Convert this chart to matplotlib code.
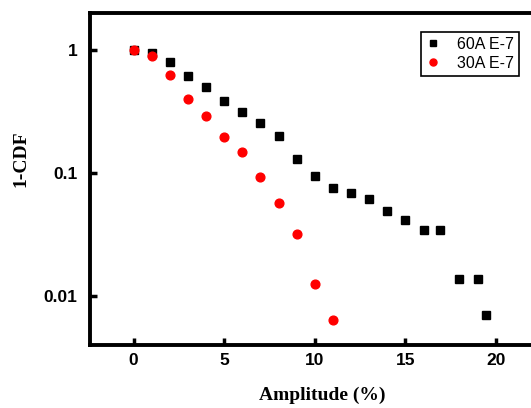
import numpy as np
import matplotlib.pyplot as plt

# 60A E-7
x_60 = [0, 1, 2, 3, 4, 5, 6, 7, 8, 9, 10, 11, 12, 13, 14, 15, 16, 16.9, 17.95, 19.0, 19.45]
y_60 = [1.0, 0.95, 0.80, 0.61, 0.50, 0.385, 0.315, 0.253, 0.20, 0.13, 0.095, 0.075,
        0.068, 0.061, 0.049, 0.041, 0.0344, 0.0344, 0.0137, 0.0137, 0.0070]

# 30A E-7
x_30 = [0, 1, 2, 3, 4, 5, 6, 7, 8, 9, 10, 11]
y_30 = [1.0, 0.89, 0.62, 0.40, 0.29, 0.195, 0.149, 0.093, 0.057, 0.0318, 0.0125, 0.0063]

xticks = [0, 5, 10, 15, 20]
yticks = [0.01, 0.1, 1]
ytick_labels = ["0.01", "0.1", "1"]

fig = plt.figure(figsize=(5.31, 4.08), dpi=100)
ax = fig.add_axes([0.1695, 0.1544, 0.84, 0.8136])

ax.plot(x_60, y_60, linestyle="none", marker="s", markersize=5.8,
        color="black", label="60A E-7")
ax.plot(x_30, y_30, linestyle="none", marker="o", markersize=6.3,
        color="red", markeredgecolor="red", label="30A E-7")

ax.set_yscale("log")
ax.set_xlim(-2.4, 22.2)
ax.set_ylim(10 ** -2.4, 10 ** 0.3)
ax.set_xticks(xticks)
ax.set_xticklabels([str(t) for t in xticks])
ax.set_yticks(yticks)
ax.set_yticklabels(ytick_labels)
ax.minorticks_off()

for lab in ax.get_xticklabels() + ax.get_yticklabels():
    lab.set_fontfamily("Liberation Sans")
    lab.set_fontweight("bold")
    lab.set_fontsize(12.5)

ax.tick_params(direction="in", length=5, width=2.5)
ax.tick_params(axis="x", pad=6)
ax.tick_params(axis="y", pad=9)
for side in ["left", "bottom", "top", "right"]:
    ax.spines[side].set_linewidth(2.8)

ax.set_xlabel("Amplitude (%)", fontfamily="Liberation Serif", fontweight="bold",
              fontsize=14)
ax.xaxis.set_label_coords(0.52, -0.125)
ax.set_ylabel("1-CDF", fontfamily="Liberation Serif", fontweight="bold",
              fontsize=14)
ax.yaxis.set_label_coords(-0.135, 0.56)

leg = ax.legend(loc="upper right", bbox_to_anchor=(0.962, 0.943), fancybox=False,
                edgecolor="black", framealpha=1, handlelength=1, handletextpad=1.0,
                borderpad=0.3, labelspacing=0.25, markerscale=0.8, borderaxespad=0,
                prop={"family": "Liberation Sans", "size": 11.5})
leg.get_frame().set_linewidth(1.2)

fig.savefig("out.png", dpi=100)
